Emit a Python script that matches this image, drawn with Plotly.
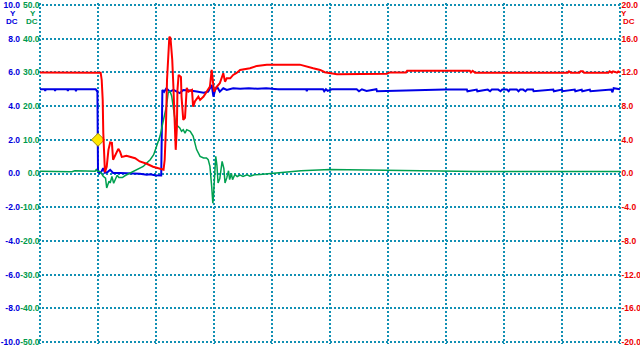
import plotly.graph_objects as go

# ---------------- data (time in screen divisions, values in channel units) ----------------
blue_t = [0.00, 0.08, 0.09, 0.10, 0.25, 0.26, 0.27, 0.47, 0.48, 0.49, 0.61, 0.62, 0.63,
          0.96, 0.98, 0.99, 1.00, 1.03, 1.06, 1.09, 1.12, 1.17, 1.21, 1.26, 1.38, 1.55, 1.72,
          1.84, 1.90, 1.98, 2.09, 2.11, 2.14, 2.18, 2.24, 2.30, 2.36, 2.41, 2.47, 2.53, 2.59,
          2.70, 2.82, 2.90, 2.96, 2.99, 3.02, 3.05, 3.10, 3.16, 3.22, 3.33, 3.45, 3.60, 3.75,
          3.90, 4.10, 4.59, 4.60, 4.61, 4.88, 4.90, 4.93, 4.96, 5.03, 5.46, 5.50, 5.55, 5.63,
          5.80, 5.81, 6.98, 7.36, 7.37, 7.53, 7.54, 7.72, 7.76, 7.79, 7.90, 7.94, 7.97, 8.05,
          8.08, 8.10, 8.22, 8.25, 8.28, 8.33, 8.37, 8.40, 8.50, 8.51, 8.85, 8.86, 9.00, 9.01,
          9.22, 9.23, 9.34, 9.35, 9.48, 9.49, 9.85, 9.87, 9.89, 10.00]
blue_v = [5.00, 5.00, 4.90, 5.00, 5.00, 4.90, 5.00, 5.00, 4.90, 5.00, 5.00, 4.88, 5.00,
          5.00, 4.90, 4.90, 0.10, 0.03, 0.12, 0.32, 0.04, 0.10, 0.22, 0.03, 0.03, 0.03, -0.01,
          -0.07, -0.04, -0.10, -0.12, 4.96, 4.85, 5.06, 4.86, 4.96, 4.86, 4.77, 4.96, 4.96, 4.92,
          4.86, 4.80, 4.86, 5.26, 4.56, 4.96, 5.16, 4.86, 5.06, 4.96, 5.06, 5.03, 5.06, 5.03,
          5.06, 5.00, 5.00, 4.88, 5.00, 5.00, 4.88, 5.00, 4.90, 5.00, 5.00, 4.88, 5.00, 4.90,
          5.00, 4.88, 4.98, 4.98, 4.88, 4.98, 4.88, 4.98, 4.88, 4.98, 4.98, 4.88, 4.98, 4.98,
          4.88, 4.98, 4.98, 4.88, 4.98, 4.98, 4.88, 4.98, 4.98, 4.88, 4.98, 4.88, 4.98, 4.88,
          4.98, 4.88, 4.98, 4.88, 4.98, 4.88, 4.98, 4.82, 5.06, 5.00]

red_t = [0.00, 1.04, 1.046, 1.064, 1.081, 1.091, 1.109, 1.12, 1.15, 1.18, 1.21, 1.24, 1.26,
         1.29, 1.32, 1.35, 1.38, 1.41, 1.44, 1.49, 1.55, 1.64, 1.72, 1.84, 1.95, 2.03, 2.10,
         2.13, 2.15, 2.17, 2.19, 2.21, 2.23, 2.25, 2.28, 2.30, 2.32, 2.34, 2.36, 2.37, 2.39,
         2.43, 2.44, 2.46, 2.47, 2.50, 2.53, 2.56, 2.62, 2.64, 2.67, 2.73, 2.76, 2.82, 2.87,
         2.93, 2.96, 2.98, 3.00, 3.05, 3.10, 3.16, 3.19, 3.22, 3.28, 3.33, 3.39, 3.45, 3.62,
         3.74, 3.91, 4.48, 4.59, 4.71, 4.83, 4.91, 5.12, 5.74, 5.98, 6.03, 6.31, 6.33, 7.41,
         7.43, 7.46, 7.50, 9.10, 9.12, 9.15, 9.30, 9.32, 9.36, 9.38, 9.80, 9.82, 9.86, 9.88,
         9.95, 9.97, 10.00]
red_v = [12.00, 12.00, 11.97, 11.10, 8.74, 4.83, 0.24, 0.15, 0.80, 2.81, 3.68, 3.64, 1.63,
         2.10, 2.46, 2.93, 2.58, 1.98, 2.02, 2.10, 1.98, 1.81, 1.43, 1.16, 0.80, 0.65, 0.50,
         0.44, 1.63, 5.18, 11.10, 13.87, 16.24, 16.08, 13.50, 10.30, 5.18, 2.81, 5.50, 9.90, 11.70,
         11.46, 9.13, 7.20, 6.37, 6.60, 10.16, 9.72, 9.92, 7.94, 8.54, 9.13, 8.74, 9.13, 9.72,
         10.31, 12.29, 11.10, 9.72, 10.31, 10.71, 11.90, 10.90, 11.30, 11.30, 11.70, 11.94, 12.29, 12.49,
         12.77, 12.92, 12.92, 12.68, 12.49, 12.29, 12.02, 11.78, 11.78, 11.85, 12.00, 12.00, 12.21, 12.21,
         12.00, 12.20, 11.97, 11.97, 12.13, 11.97, 11.97, 12.13, 12.13, 11.97, 11.97, 12.13, 11.97, 12.13,
         11.97, 12.10, 12.00]

green_t = [0.00, 0.50, 0.55, 0.60, 0.95, 0.97, 0.99, 1.02, 1.05, 1.09, 1.13, 1.15, 1.17, 1.19,
           1.21, 1.24, 1.27, 1.30, 1.33, 1.36, 1.42, 1.47, 1.55, 1.63, 1.69, 1.78, 1.84, 1.90,
           1.96, 2.01, 2.07, 2.13, 2.18, 2.21, 2.24, 2.27, 2.30, 2.34, 2.38, 2.41, 2.44, 2.47,
           2.50, 2.53, 2.59, 2.64, 2.70, 2.76, 2.82, 2.87, 2.90, 2.93, 2.96, 2.98, 2.99, 3.01,
           3.03, 3.05, 3.07, 3.10, 3.13, 3.14, 3.17, 3.19, 3.22, 3.25, 3.27, 3.30, 3.32, 3.36,
           3.40, 3.45, 3.50, 3.57, 3.62, 3.70, 3.79, 3.90, 4.10, 4.50, 5.00, 5.50, 6.00, 6.50,
           7.50, 10.00]
green_v = [0.7, 0.7, 0.5, 0.8, 0.7, 1.2, 0.7, 0.7, 0.3, -0.8, -1.4, -4.3, -3.4, -2.3,
           -2.8, -0.9, -2.9, -1.5, -0.5, -1.2, -1.2, -0.6, 0.1, 0.6, 1.1, 2.1, 3.1, 4.1,
           5.6, 8.1, 11.1, 16.0, 20.0, 23.9, 24.5, 23.0, 19.0, 14.5, 14.0, 13.5, 12.5, 13.0,
           12.0, 13.0, 12.5, 11.1, 7.1, 5.1, 4.6, 4.6, 4.1, 2.1, -3.8, -8.8, -7.0, -0.8,
           5.1, 2.5, -2.8, -1.5, 1.6, 3.6, 1.5, -2.8, -1.3, 0.8, -1.8, 0.0, -1.8, -0.3,
           -0.9, -0.5, -0.9, -0.4, -0.8, -0.4, -0.3, -0.1, 0.2, 0.8, 1.2, 1.1, 0.9, 0.7,
           0.6, 0.6]

trigger_t = [1.0]
trigger_level = [2.0]

blue_ticks = [10, 8, 6, 4, 2, 0, -2, -4, -6, -8, -10]
blue_labels = ["10.0", "8.0", "6.0", "4.0", "2.0", "0.0", "-2.0", "-4.0", "-6.0", "-8.0", "-10.0"]
green_ticks = [50, 40, 30, 20, 10, 0, -10, -20, -30, -40, -50]
green_labels = ["50.0", "40.0", "30.0", "20.0", "10.0", "0.0", "-10.0", "-20.0", "-30.0", "-40.0", "-50.0"]
red_ticks = [20, 16, 12, 8, 4, 0, -4, -8, -12, -16, -20]
red_labels = ["20.0", "16.0", "12.0", "8.0", "4.0", "0.0", "-4.0", "-8.0", "-12.0", "-16.0", "-20.0"]

# ---------------- style ----------------
BLUE = "#0000e6"
GREEN = "#00a050"
RED = "#ff0000"
BLUE_T = "#0000dd"
GREEN_T = "#009a4c"
RED_T = "#ee0000"
GRID = "#1190b4"
FONT = "Liberation Sans, Arial"
W, H = 640, 360
L_PX, R_PX, T_PX, B_PX = 40, 620, 5, 342   # grid frame in pixels
PAD = 2                                     # extra pixels so edge grid lines are drawn

def padded(lo, hi, span_px):
    d = (hi - lo) * PAD / span_px
    return [lo - d, hi + d]

fig = go.Figure()
fig.add_trace(go.Scatter(x=green_t, y=green_v, yaxis="y2", mode="lines",
                         line=dict(color=GREEN, width=1.5), hoverinfo="skip"))
fig.add_trace(go.Scatter(x=blue_t, y=blue_v, yaxis="y", mode="lines",
                         line=dict(color=BLUE, width=2), hoverinfo="skip"))
fig.add_trace(go.Scatter(x=red_t, y=red_v, yaxis="y3", mode="lines",
                         line=dict(color=RED, width=2), hoverinfo="skip"))
fig.add_trace(go.Scatter(x=trigger_t, y=trigger_level, yaxis="y", mode="markers",
                         marker=dict(symbol="diamond", size=10, color="#ffe800",
                                     line=dict(color="#a08a00", width=1)),
                         hoverinfo="skip"))

tickfont = lambda c: dict(family=FONT, size=8.5, color=c, weight="bold")
VSPAN = B_PX - T_PX
HSPAN = R_PX - L_PX

fig.update_layout(
    width=W, height=H,
    margin=dict(l=0, r=0, t=T_PX - PAD, b=H - B_PX - PAD),
    paper_bgcolor="white", plot_bgcolor="white",
    showlegend=False,
    xaxis=dict(domain=[(L_PX - PAD) / W, (R_PX + PAD) / W], range=padded(0, 10, HSPAN),
               dtick=1, tick0=0, tickmode="linear",
               showticklabels=False, ticks="", showgrid=True, gridcolor=GRID,
               gridwidth=2, griddash="2px,2px", zeroline=False, showline=False,
               fixedrange=True),
    yaxis=dict(range=padded(-10, 10, VSPAN), tickvals=blue_ticks, ticktext=blue_labels,
               tickfont=tickfont(BLUE_T), anchor="free", position=20 / W, side="left",
               ticks="", showgrid=True, gridcolor=GRID, gridwidth=2, griddash="2px,2px",
               zeroline=False, showline=False, fixedrange=True, ticklabelstandoff=0,
               ticklabeloverflow="allow"),
    yaxis2=dict(range=padded(-50, 50, VSPAN), tickvals=green_ticks, ticktext=green_labels,
                tickfont=tickfont(GREEN_T), overlaying="y", anchor="free",
                position=39.5 / W, side="left", ticks="", showgrid=False,
                zeroline=False, showline=False, fixedrange=True, ticklabelstandoff=0,
                ticklabeloverflow="allow"),
    yaxis3=dict(range=padded(-20, 20, VSPAN), tickvals=red_ticks, ticktext=red_labels,
                tickfont=tickfont(RED_T), overlaying="y", anchor="free",
                position=(R_PX + 0.5) / W, side="right",
                ticks="", showgrid=False, zeroline=False, showline=False,
                fixedrange=True, ticklabelstandoff=0, ticklabeloverflow="allow"),
)

def py(ypx):
    # paper y for a pixel row (paper spans the padded plot area)
    top, bot = T_PX - PAD, B_PX + PAD
    return (bot - ypx) / (bot - top)

anns = [
    ("Y", 13.0 / W, "center", BLUE_T, 14.0),
    ("DC", 20 / W, "right", BLUE_T, 22.0),
    ("Y", 33 / W, "center", GREEN_T, 14.0),
    ("DC", 39.5 / W, "right", GREEN_T, 22.0),
    ("Y", 623.5 / W, "center", RED_T, 14.0),
    ("DC", 620.5 / W, "left", RED_T, 22.0),
]
for txt, xp, xa, col, ypx in anns:
    fig.add_annotation(text=txt, x=xp, y=py(ypx), xref="paper", yref="paper",
                       xanchor=xa, yanchor="middle", showarrow=False,
                       font=dict(family=FONT, size=8, color=col, weight="bold"))

fig.write_html("out.html", config={"displayModeBar": False, "staticPlot": True},
               post_script="document.body.style.margin='0';document.body.style.overflow='hidden';")
